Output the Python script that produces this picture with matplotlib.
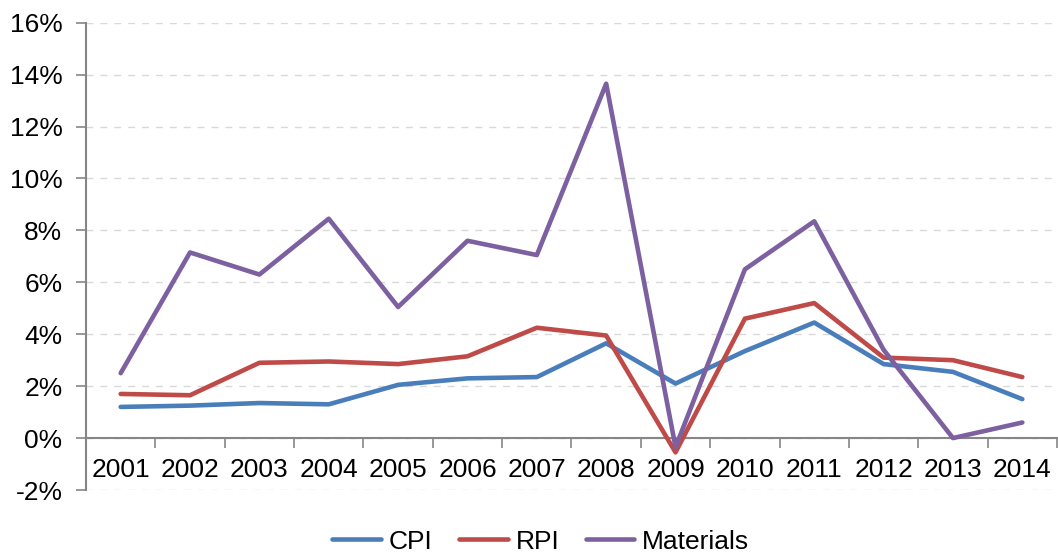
import numpy as np
import matplotlib.pyplot as plt
from matplotlib.ticker import FuncFormatter, FixedLocator

plt.rcParams['font.family'] = ['Liberation Sans', 'DejaVu Sans']

# values (annual %)
years = ['2001', '2002', '2003', '2004', '2005', '2006', '2007',
         '2008', '2009', '2010', '2011', '2012', '2013', '2014']
cpi = [1.2, 1.25, 1.35, 1.3, 2.05, 2.3, 2.35, 3.65, 2.1, 3.35, 4.45, 2.85, 2.55, 1.5]
rpi = [1.7, 1.65, 2.9, 2.95, 2.85, 3.15, 4.25, 3.95, -0.55, 4.6, 5.2, 3.1, 3.0, 2.35]
materials = [2.5, 7.15, 6.3, 8.45, 5.05, 7.6, 7.05, 13.65, -0.35, 6.5, 8.35, 3.4, 0.0, 0.6]

fig = plt.figure(figsize=(10.58, 5.55), dpi=100)
ax = fig.add_axes([86/1058, 1 - 490/555, 971/1058, (490 - 22.7)/555])

x = np.arange(len(years))
lw = 3.3
ax.plot(x, cpi, color='#4A7EBB', lw=lw, label='CPI', solid_capstyle='round', solid_joinstyle='round', zorder=3)
ax.plot(x, rpi, color='#BE4B48', lw=lw, label='RPI', solid_capstyle='round', solid_joinstyle='round', zorder=3)
ax.plot(x, materials, color='#7D60A0', lw=lw, label='Materials', solid_capstyle='round', solid_joinstyle='round', zorder=3)

ax.set_xlim(-0.5, len(years) - 0.5)
ax.set_ylim(-2, 16)
ax.set_yticks(np.arange(-2, 17, 2))
ax.yaxis.set_major_formatter(FuncFormatter(lambda v, p: '%d%%' % v))
ax.yaxis.grid(True, color='#D9D9D9', linestyle=(0, (5, 5)), lw=1.0, zorder=0)

# category labels at centres, tick marks at boundaries
ax.set_xticks(x)
ax.set_xticklabels(years)
ax.xaxis.set_minor_locator(FixedLocator(np.arange(-0.5, len(years), 1.0)))
ax.tick_params(axis='x', which='major', length=0, pad=14, labelsize=19)
ax.tick_params(axis='x', which='minor', length=7, width=1.2, color='#868686', direction='out')
ax.tick_params(axis='y', length=7, width=1.2, color='#868686', labelsize=19, pad=10)

for s in ['top', 'right']:
    ax.spines[s].set_visible(False)
ax.spines['bottom'].set_position(('data', 0))
ax.spines['bottom'].set_color('#868686')
ax.spines['bottom'].set_linewidth(1.5)
ax.spines['left'].set_color('#868686')
ax.spines['left'].set_linewidth(1.5)

fig.legend(loc='center', bbox_to_anchor=(0.511, 0.024), ncol=3, frameon=False,
           fontsize=19, handlelength=1.85, handletextpad=0.3, columnspacing=1.0)

fig.savefig('out.png', dpi=100)
